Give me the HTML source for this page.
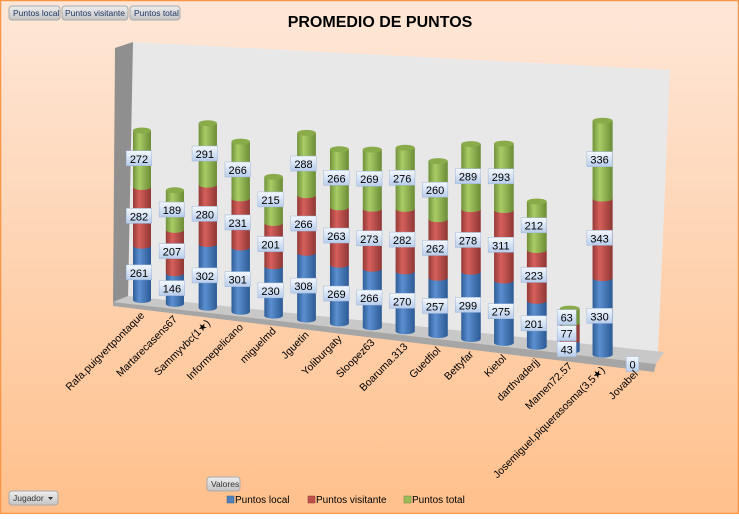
<!DOCTYPE html>
<html><head><meta charset="utf-8"><style>
html,body{margin:0;padding:0;}
body{width:739px;height:514px;overflow:hidden;font-family:"Liberation Sans",sans-serif;}
</style></head><body>
<svg id="chart" width="739" height="514" viewBox="0 0 739 514" xmlns="http://www.w3.org/2000/svg" font-family="Liberation Sans, DejaVu Sans, sans-serif">
<defs>
<linearGradient id="bg" x1="0" y1="0" x2="0" y2="1"><stop offset="0" stop-color="#fee7d8"/><stop offset="1" stop-color="#ffc08c"/></linearGradient>
<linearGradient id="gb" x1="0" y1="0" x2="1" y2="0"><stop offset="0" stop-color="#2f5d97"/><stop offset="0.35" stop-color="#5b8fd0"/><stop offset="1" stop-color="#2c5a94"/></linearGradient>
<linearGradient id="gr" x1="0" y1="0" x2="1" y2="0"><stop offset="0" stop-color="#943a37"/><stop offset="0.35" stop-color="#d65f5b"/><stop offset="1" stop-color="#8e3734"/></linearGradient>
<linearGradient id="gg" x1="0" y1="0" x2="1" y2="0"><stop offset="0" stop-color="#71913a"/><stop offset="0.35" stop-color="#a9cc66"/><stop offset="1" stop-color="#6c8b36"/></linearGradient>
<linearGradient id="lbl" x1="0" y1="0" x2="0" y2="1"><stop offset="0" stop-color="#f4f8fd"/><stop offset="1" stop-color="#b8cdec"/></linearGradient>
<linearGradient id="btn" x1="0" y1="0" x2="0" y2="1"><stop offset="0" stop-color="#eeeeee"/><stop offset="1" stop-color="#c4c4c4"/></linearGradient>
</defs>
<rect x="0.5" y="0.5" width="738" height="513" fill="url(#bg)" stroke="#f79646" stroke-width="1.5"/>
<text x="380" y="27" text-anchor="middle" font-size="16" font-weight="bold" fill="#000">PROMEDIO DE PUNTOS</text>
<g font-size="8.5" fill="#1f3763">
 <g><rect x="9" y="6" width="51" height="14" rx="3" fill="url(#btn)" stroke="#aaa"/><text x="13" y="16">Puntos local</text></g>
 <g><rect x="62" y="6" width="66" height="14" rx="3" fill="url(#btn)" stroke="#aaa"/><text x="65" y="16">Puntos visitante</text></g>
 <g><rect x="130" y="6" width="50" height="14" rx="3" fill="url(#btn)" stroke="#aaa"/><text x="134" y="16">Puntos total</text></g>
 <g><rect x="207" y="477" width="33" height="14" rx="3" fill="url(#btn)" stroke="#aaa"/><text x="211" y="487" fill="#333">Valores</text></g>
 <g><rect x="9" y="491" width="49" height="14" rx="3" fill="url(#btn)" stroke="#aaa"/><text x="13" y="501" fill="#333">Jugador</text><path d="M48 497 l5 0 l-2.5 3z" fill="#333"/></g>
</g>
<g>
 <polygon points="133,42 670,70 658,352 128,298" fill="#e8e8e8"/>
 <polygon points="115,48 133,42 128,298 113,304" fill="#8f8f8f"/>
 <polygon points="128,296 664,352 656,364 113,302" fill="#c8c8c8"/>
 <polygon points="113,302 656,364 654,372 113,306" fill="#a6a6a6"/>
</g>
<g id="bars"></g>
<g id="xlabels" font-size="10.5" fill="#000"></g>
<g font-size="10" fill="#000">
 <g><rect x="227" y="496" width="7" height="7" fill="#4f81bd" stroke="#385d8a" stroke-width="0.5"/><text x="235" y="503">Puntos local</text></g>
 <g><rect x="308" y="496" width="7" height="7" fill="#c0504d" stroke="#8c3836" stroke-width="0.5"/><text x="316" y="503">Puntos visitante</text></g>
 <g><rect x="404" y="496" width="7" height="7" fill="#9bbb59" stroke="#71893f" stroke-width="0.5"/><text x="412" y="503">Puntos total</text></g>
</g>
</svg>
<script>
const players = ["Rafa.puigvertpontaque","Martarecasens67","Sammyvbc(1★)","Informepelicano","miguelmd","Jguetin","Yoliburgaty","Sloopez63","Boaruma.313","Guedfiol","Bettyfar","Kietol","darthvaderjj","Mamen72.57","Josemiguel.piquerasosma(3,5★)","Jovabel"];
const local = [261,146,302,301,230,308,269,266,270,257,299,275,201,43,330,0];
const visitante = [282,207,280,231,201,266,263,273,282,262,278,311,223,77,343,0];
const total = [272,189,291,266,215,288,266,269,276,260,289,293,212,63,336,0];
const NS="http://www.w3.org/2000/svg";
function colX(i){return 142+32.9*i;}
function colBase(i){return 300+3.9*i;}
function yScale(i){return 0.208+0.0017*i;}
function colW(i){return 18+0.15*i;}
const bars=document.getElementById('bars');
const xl=document.getElementById('xlabels');
function mk(tag,attrs,parent){const e=document.createElementNS(NS,tag);for(const k in attrs)e.setAttribute(k,attrs[k]);parent.appendChild(e);return e;}
const series=[[local,'url(#gb)','#6d9ad6','local'],[visitante,'url(#gr)','#dd7470','visitante'],[total,'url(#gg)','#b3d27a','total']];
players.forEach((p,i)=>{
 const cx=colX(i), w=colW(i), r=w/2, ry=3;
 let y=colBase(i);
 const g=mk('g',{},bars);
 
 
 const labels=[];
 series.forEach(([arr,fill,top,nm])=>{
  const h=arr[i]*yScale(i);
  const yt=y-h;
  if(h>0){
   const seg=mk('path',{d:`M${cx-r} ${yt} L${cx-r} ${y} A${r} ${ry} 0 0 0 ${cx+r} ${y} L${cx+r} ${yt} Z`,fill:fill},g);
   
   
  }
  labels.push([arr[i],(y+yt)/2,nm]);
  y=yt;
 });
 if(y<colBase(i)){
  const cap=mk('ellipse',{cx:cx,cy:y,rx:r,ry:ry,fill:'#8aab4a'},g);
  
  
 }
 labels.forEach(([v,ly,nm],k)=>{
  let yy=ly;
  if(colBase(i)-y<60){yy=[colBase(i)-1,colBase(i)-17,colBase(i)-33][k];}
  if(v===0){ if(k>0)return; yy=colBase(i)+6; }
  const s=String(v);const bw=s.length*6.5+6;
  const lg=mk('g',{},g);
  
  
  mk('rect',{x:cx-bw/2-3,y:yy-8,width:bw,height:15,fill:'url(#lbl)',stroke:'#9fb6d8','stroke-width':0.5},lg);
  const t=mk('text',{x:cx-3,y:yy+4,'text-anchor':'middle','font-size':'11',fill:'#000'},lg);
  t.textContent=s;
 });
 const t=mk('text',{x:0,y:0,'text-anchor':'end',transform:`translate(${cx+3},${colBase(i)+16}) rotate(-45)`},xl);
 
 
 t.textContent=p;
});
</script>
</body></html>
